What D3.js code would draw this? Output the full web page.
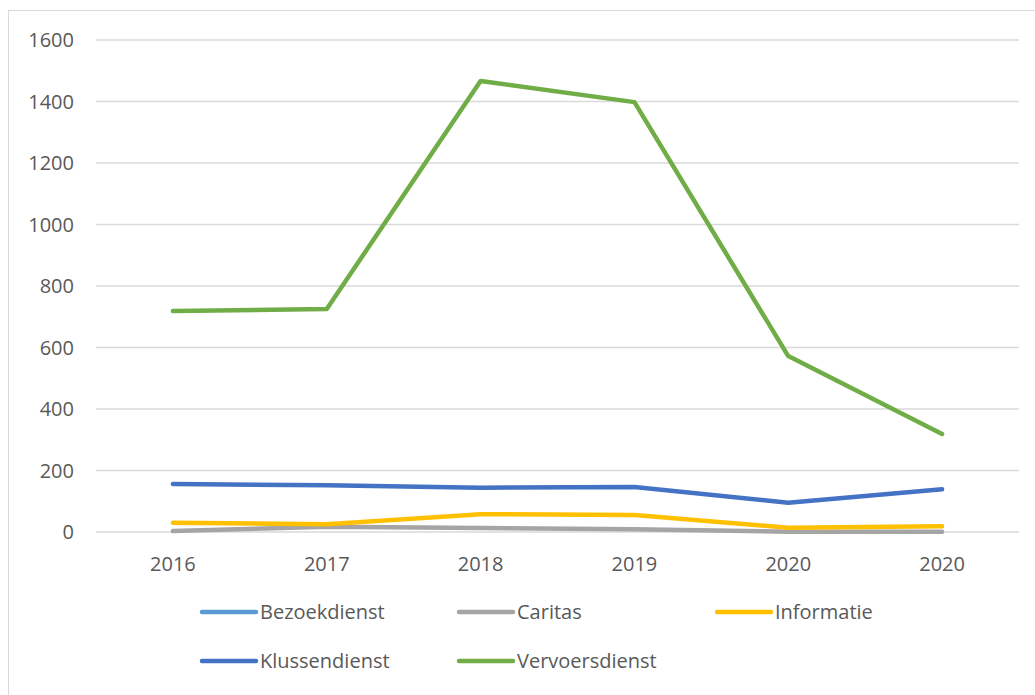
<!DOCTYPE html>
<meta charset="utf-8">
<script src="https://d3js.org/d3.v7.min.js"></script>
<style>
    body {margin: 0; font-family: 'Open Sans', 'Noto Sans', sans-serif; background: #fff;}
</style>
<body>
<svg width="1035" height="695"></svg>
<script>
    // values
    const years = ["2016", "2017", "2018", "2019", "2020", "2020"];
    const seriesNames = ["Bezoekdienst", "Caritas", "Informatie", "Klussendienst", "Vervoersdienst"];
    const bezoekdienst = [null, null, null, null, null, null]; // not visible in the chart
    const caritas = [3, 17, 13, 9, 1, 1];
    const informatie = [30, 25, 58, 55, 14, 19];
    const klussendienst = [156, 152, 144, 146, 95, 139];
    const vervoersdienst = [719, 725, 1467, 1398, 572, 319];
    const colors = ["#5B9BD5", "#A5A5A5", "#FFC000", "#4472C4", "#70AD47"];
    const yTicks = [0, 200, 400, 600, 800, 1000, 1200, 1400, 1600];

    const allSeries = [bezoekdienst, caritas, informatie, klussendienst, vervoersdienst];

    var svg = d3.select("svg");

    // chart frame
    svg.append("rect")
        .attr("x", 8.5).attr("y", 10.5)
        .attr("width", 1030).attr("height", 690)
        .style("fill", "none").style("stroke", "#D9D9D9");

    var x = d3.scaleBand()
        .domain(d3.range(years.length))
        .range([96, 1019]);
    var y = d3.scaleLinear()
        .domain([0, 1600])
        .range([532, 40]);

    // gridlines
    svg.append("g")
        .selectAll("line")
        .data(yTicks)
        .enter().append("line")
        .attr("x1", 96).attr("x2", 1019)
        .attr("y1", d => y(d)).attr("y2", d => y(d))
        .style("stroke", "#D9D9D9")
        .style("stroke-width", 1.3);

    // y labels
    svg.append("g")
        .selectAll("text")
        .data(yTicks)
        .enter().append("text")
        .attr("x", 74)
        .attr("y", d => y(d))
        .attr("dy", "0.35em")
        .attr("text-anchor", "end")
        .style("font-size", "20px")
        .style("fill", "#595959")
        .text(d => d);

    // x labels
    svg.append("g")
        .selectAll("text")
        .data(years)
        .enter().append("text")
        .attr("x", (d, i) => x(i) + x.bandwidth() / 2)
        .attr("y", 564)
        .attr("dy", "0.35em")
        .attr("text-anchor", "middle")
        .style("font-size", "20px")
        .style("fill", "#595959")
        .text(d => d);

    var line = d3.line()
        .defined(d => d != null)
        .x((d, i) => x(i) + x.bandwidth() / 2)
        .y(d => y(d));

    svg.append("g")
        .selectAll("path")
        .data(allSeries)
        .enter().append("path")
        .attr("d", line)
        .style("fill", "none")
        .style("stroke", (d, i) => colors[i])
        .style("stroke-width", 4.5)
        .style("stroke-linecap", "round")
        .style("stroke-linejoin", "round");

    // legend
    const legendCols = [202, 459, 717];
    const legendRows = [612, 661];
    var legend = svg.append("g")
        .selectAll("g")
        .data(seriesNames)
        .enter().append("g")
        .attr("transform", (d, i) => "translate(" + legendCols[i % 3] + "," + legendRows[Math.floor(i / 3)] + ")");
    legend.append("line")
        .attr("x1", 0).attr("x2", 54)
        .attr("y1", 0).attr("y2", 0)
        .style("stroke", (d, i) => colors[i])
        .style("stroke-width", 4.5)
        .style("stroke-linecap", "round");
    legend.append("text")
        .attr("x", 58)
        .attr("y", 0)
        .attr("dy", "0.35em")
        .style("font-size", "20px")
        .style("fill", "#595959")
        .text(d => d);
</script>
</body>
